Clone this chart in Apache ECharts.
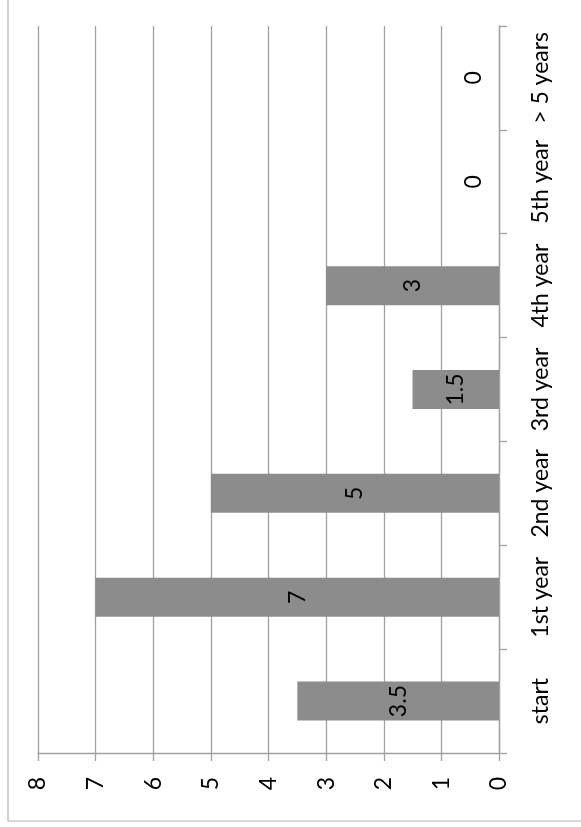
<!DOCTYPE html>
<html>
<head>
<meta charset="utf-8">
<script src="https://cdn.jsdelivr.net/npm/echarts@6/dist/echarts.min.js"></script>
<style>
html,body{margin:0;padding:0;background:#fff;}
#chart{width:581px;height:827px;}
</style>
</head>
<body>
<div id="chart"></div>
<script>
const categories = ['start', '1st year', '2nd year', '3rd year', '4th year', '5th year', '> 5 years'];
const values = [3.5, 7, 5, 1.5, 3, 0, 0];
const valueTicks = [0, 1, 2, 3, 4, 5, 6, 7, 8];

const FONT = 'Lato';
const FS = 23;
const gridColor = '#a0a0a0';

const chart = echarts.init(document.getElementById('chart'), null, {renderer: 'canvas'});
const barData = values.map(v => v === 0 ? {value: v, label: {offset: [0, -25]}} : v);

chart.setOption({
  animation: false,
  backgroundColor: '#fff',
  graphic: [{
    type: 'rect',
    shape: {x: 8, y: -10, width: 620, height: 831},
    style: {fill: 'none', stroke: '#b3b3b3', lineWidth: 1.2},
    silent: true
  }],
  grid: {left: 38, right: 82, top: 26, bottom: 74, containLabel: false, outerBoundsMode: 'none'},
  xAxis: {
    type: 'value',
    inverse: true,
    position: 'bottom',
    min: valueTicks[0],
    max: valueTicks[valueTicks.length - 1],
    interval: 1,
    axisLine: {show: true, lineStyle: {color: gridColor, width: 1.3}},
    axisTick: {show: true, length: 8, lineStyle: {color: gridColor, width: 1.3}},
    splitLine: {show: true, lineStyle: {color: gridColor, width: 1.3}},
    axisLabel: {rotate: 90, margin: 24, fontFamily: FONT, fontSize: FS, color: '#000'}
  },
  yAxis: {
    type: 'category',
    position: 'right',
    data: categories,
    boundaryGap: true,
    axisLine: {show: true, lineStyle: {color: gridColor, width: 1.3}},
    axisTick: {show: true, length: 8, inside: false, lineStyle: {color: gridColor, width: 1.3}},
    splitLine: {show: false},
    axisLabel: {rotate: 90, margin: 30, fontFamily: FONT, fontSize: FS, color: '#000', interval: 0}
  },
  series: [{
    type: 'bar',
    data: barData,
    barWidth: 39,
    itemStyle: {color: '#8c8c8c'},
    label: {
      show: true,
      position: 'inside',
      rotate: 90,
      fontFamily: FONT,
      fontSize: FS,
      color: '#000'
    }
  }]
});
</script>
</body>
</html>
